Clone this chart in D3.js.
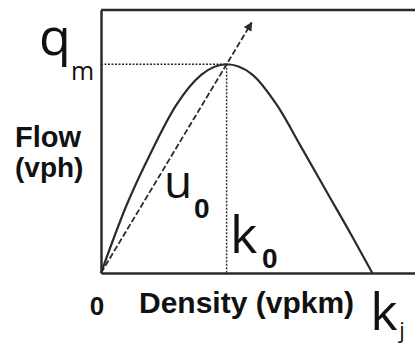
<!DOCTYPE html>
<html>
<head>
<meta charset="utf-8">
<script src="https://cdn.jsdelivr.net/npm/d3@7"></script>
<style>
  html, body { margin: 0; padding: 0; background: #fff; }
  svg { display: block; }
</style>
</head>
<body>
<div id="chart"></div>
<script>
// Fundamental diagram of traffic flow: flow vs. density
const density = [0, 10, 20, 30, 40, 50, 60, 70, 80, 90, 100, 108];      // vpkm
const flow    = [0, 320, 580, 805, 950, 1000, 953, 805, 597, 386, 175, 0]; // vph
const kOptimum = 50;    // k0, density at capacity
const qMax = 1000;      // qm, capacity flow
const kJam = 108;       // kj, jam density
const freeSpeed = qMax / kOptimum; // u0, slope of the ray through capacity
const tickLabels = ["0"];

const W = 415, H = 344;
const svg = d3.select("#chart").append("svg")
  .attr("width", W).attr("height", H);

const x = d3.scaleLinear().domain([0, 125]).range([101, 415]);
const y = d3.scaleLinear().domain([0, 1260]).range([273, 10]);

const ink = "#2b2b2b";

// Axes (domain lines only)
svg.append("g")
  .attr("transform", `translate(0,${y(0)})`)
  .call(d3.axisBottom(x).tickValues([]).tickSizeOuter(0))
  .call(g => g.select(".domain").attr("stroke", ink).attr("stroke-width", 2.5));
svg.append("g")
  .attr("transform", `translate(${x(0)},0)`)
  .call(d3.axisLeft(y).tickValues([]).tickSizeOuter(0))
  .call(g => g.select(".domain").attr("stroke", ink).attr("stroke-width", 2.5));
// top frame line
svg.append("line")
  .attr("x1", x(0)).attr("x2", x(125))
  .attr("y1", y(1260)).attr("y2", y(1260))
  .attr("stroke", ink).attr("stroke-width", 2.5);

// Guide lines to capacity point
svg.append("line")
  .attr("x1", x(0)).attr("x2", x(kOptimum))
  .attr("y1", y(qMax)).attr("y2", y(qMax))
  .attr("stroke", ink).attr("stroke-width", 1.6)
  .attr("stroke-dasharray", "2,1.5");
svg.append("line")
  .attr("x1", x(kOptimum)).attr("x2", x(kOptimum))
  .attr("y1", y(qMax)).attr("y2", y(0))
  .attr("stroke", ink).attr("stroke-width", 1.4)
  .attr("stroke-dasharray", "2,1.5");

// Ray from origin with slope u0, ending in an arrow
svg.append("defs").append("marker")
  .attr("id", "arrow")
  .attr("viewBox", "0 0 10 10")
  .attr("refX", 9).attr("refY", 5)
  .attr("markerWidth", 9).attr("markerHeight", 9)
  .attr("markerUnits", "userSpaceOnUse")
  .attr("orient", "auto")
  .append("path").attr("d", "M0,0 L10,5 L0,10 Z").attr("fill", ink);

const rayEnd = 60;
svg.append("line")
  .attr("x1", x(0)).attr("y1", y(0))
  .attr("x2", x(rayEnd)).attr("y2", y(freeSpeed * rayEnd))
  .attr("stroke", ink).attr("stroke-width", 1.8)
  .attr("stroke-dasharray", "6,2.5")
  .attr("marker-end", "url(#arrow)");

// Flow-density curve
const line = d3.line()
  .x((d, i) => x(density[i]))
  .y((d, i) => y(flow[i]))
  .curve(d3.curveMonotoneX);
svg.append("path")
  .datum(flow)
  .attr("d", line)
  .attr("fill", "none")
  .attr("stroke", ink)
  .attr("stroke-width", 2.2);

// Labels
const thin = "'Open Sans', 'DejaVu Sans', sans-serif";
const bold = "'Liberation Sans', Arial, sans-serif";

function label(txt, px, py, size, family, weight, anchor) {
  svg.append("text")
    .attr("x", px).attr("y", py)
    .attr("font-family", family)
    .attr("font-size", size)
    .attr("font-weight", weight || "normal")
    .attr("text-anchor", anchor || "start")
    .attr("fill", "#111")
    .text(txt);
}

// q_m
label("q", 39, y(qMax) - 9, 52, thin);
label("m", 71, y(qMax) + 16, 25, thin);

// y-axis title
label("Flow", 15, 147, 29, bold, "bold");
label("(vph)", 15, 177, 28, bold, "bold");

// u0
label("u", 164, 198, 46, thin);
label("0", 194, 218, 28, bold, "bold");

// k0
label("k", 230, 253, 52, thin);
label("0", 262, 268, 28, bold, "bold");

// origin tick and x-axis title
label(tickLabels[0], 97, 315, 26, bold, "bold", "middle");
label("Density (vpkm)", 139, 313, 30, bold, "bold");

// kj
label("k", x(kJam) - 2, 330, 52, thin);
label("j", x(kJam) + 27, 338, 22, thin);
</script>
</body>
</html>
